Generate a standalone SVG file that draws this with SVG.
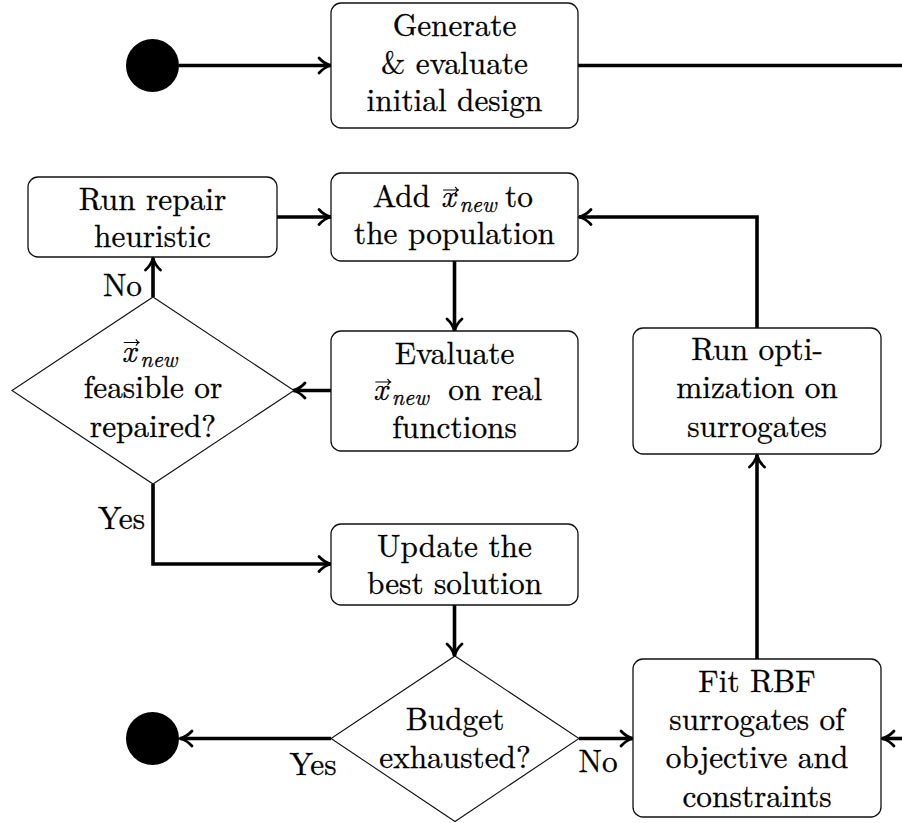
<svg xmlns="http://www.w3.org/2000/svg" width="902" height="823" viewBox="0 0 902 823">
<style>
.box{fill:#fff;stroke:#111;stroke-width:1.3}
.dia{fill:#fff;stroke:#111;stroke-width:1.1}
.dot{fill:#000}
.c{fill:none;stroke:#000;stroke-width:3.6}
.ca{fill:none;stroke:#000;stroke-width:3.6;marker-end:url(#ah)}
.vec{fill:none;stroke:#000;stroke-width:1.2;stroke-linecap:round;stroke-linejoin:round}
text{stroke:#000;stroke-width:0.3}
</style>
<defs>
<marker id="ah" markerUnits="userSpaceOnUse" viewBox="-15 -10 17 20" markerWidth="17" markerHeight="20" refX="0" refY="0" orient="auto">
<path d="M-12,-7.5 C-8,-3 -3.5,-0.9 0,0 C-3.5,0.9 -8,3 -12,7.5" fill="none" stroke="#000" stroke-width="2.8" stroke-linecap="round" stroke-linejoin="round"/>
</marker>
</defs>

<g id="connectors">
<path class="ca" d="M179,65.5 H331"/>
<path class="c" d="M578,65.5 H905"/>
<path class="ca" d="M905,738.5 H882"/>
<path class="ca" d="M757,659 V455"/>
<path class="ca" d="M757,328 V217 H579"/>
<path class="ca" d="M454.5,261 V331"/>
<path class="ca" d="M331,390.5 H293"/>
<path class="ca" d="M153,297 V258"/>
<path class="ca" d="M277,217 H331"/>
<path class="ca" d="M153,484 V564 H331"/>
<path class="ca" d="M454.5,605 V656"/>
<path class="ca" d="M331,738.5 H180"/>
<path class="ca" d="M579,738.5 H633"/>
<text x="142" y="296" text-anchor="end" font-family="'Latin Modern Roman','Liberation Serif',serif" font-size="31.3">No</text>
<text x="145" y="529" text-anchor="end" font-family="'Latin Modern Roman','Liberation Serif',serif" font-size="31.3">Yes</text>
<text x="313" y="775" text-anchor="middle" font-family="'Latin Modern Roman','Liberation Serif',serif" font-size="31.3">Yes</text>
<text x="598" y="772" text-anchor="middle" font-family="'Latin Modern Roman','Liberation Serif',serif" font-size="31.3">No</text>
</g>

<g id="start">
<circle class="dot" cx="152.5" cy="65.5" r="26.5"/>
</g>

<g id="generate" font-family="'Latin Modern Roman','Liberation Serif',serif" font-size="31.3" text-anchor="middle">
<rect class="box" x="331" y="3" width="247" height="125" rx="10"/>
<text x="454.5" y="36" font-family="'Latin Modern Roman','Liberation Serif',serif">Generate</text>
<text x="454.5" y="74" font-family="'Latin Modern Roman','Liberation Serif',serif">&amp; evaluate</text>
<text x="454.5" y="111" font-family="'Latin Modern Roman','Liberation Serif',serif">initial design</text>
</g>

<g id="repair" font-family="'Latin Modern Roman','Liberation Serif',serif" font-size="31.3" text-anchor="middle">
<rect class="box" x="28" y="177" width="249" height="80" rx="10"/>
<text x="152.5" y="210" font-family="'Latin Modern Roman','Liberation Serif',serif">Run repair</text>
<text x="152.5" y="246.5" font-family="'Latin Modern Roman','Liberation Serif',serif">heuristic</text>
</g>

<g id="add" font-family="'Latin Modern Roman','Liberation Serif',serif" font-size="31.3">
<rect class="box" x="331" y="173" width="247" height="88" rx="10"/>
<text x="372.7" y="206.5" font-family="'Latin Modern Roman','Liberation Serif',serif">Add <tspan x="441" font-style="italic">x</tspan><tspan x="459.5" dy="5" font-style="italic" font-size="22">new</tspan><tspan x="505" dy="-5">to</tspan></text>
<path class="vec" d="M443.5,190 H458.5 M455.5,187.3 Q456.5,189.3 458.5,190 Q456.5,190.7 455.5,192.7"/>
<text x="454.5" y="243.5" text-anchor="middle" font-family="'Latin Modern Roman','Liberation Serif',serif">the population</text>
</g>

<g id="evaluate" font-family="'Latin Modern Roman','Liberation Serif',serif" font-size="31.3">
<rect class="box" x="331" y="331" width="247" height="120" rx="10"/>
<text x="454.5" y="363.5" text-anchor="middle" font-family="'Latin Modern Roman','Liberation Serif',serif">Evaluate</text>
<text x="373.3" y="400" font-family="'Latin Modern Roman','Liberation Serif',serif"><tspan font-style="italic">x</tspan><tspan x="391.7" dy="5" font-style="italic" font-size="22">new</tspan><tspan x="448.3" dy="-5">on real</tspan></text>
<path class="vec" d="M375.8,382 H390.8 M387.8,379.3 Q388.8,381.3 390.8,382 Q388.8,382.7 387.8,384.7"/>
<text x="454.5" y="438" text-anchor="middle" font-family="'Latin Modern Roman','Liberation Serif',serif">functions</text>
</g>

<g id="feasible" font-family="'Latin Modern Roman','Liberation Serif',serif" font-size="31.3">
<polygon class="dia" points="153,297 294,390.5 153,484 12,390.5"/>
<text x="121.7" y="361.5" font-family="'Latin Modern Roman','Liberation Serif',serif"><tspan font-style="italic">x</tspan><tspan x="140.3" dy="5" font-style="italic" font-size="22">new</tspan></text>
<path class="vec" d="M124.2,342.5 H139.2 M136.2,339.8 Q137.2,341.8 139.2,342.5 Q137.2,343.2 136.2,345.2"/>
<text x="153" y="398" text-anchor="middle" font-family="'Latin Modern Roman','Liberation Serif',serif">feasible or</text>
<text x="153" y="436.5" text-anchor="middle" font-family="'Latin Modern Roman','Liberation Serif',serif">repaired?</text>
</g>

<g id="update" font-family="'Latin Modern Roman','Liberation Serif',serif" font-size="31.3" text-anchor="middle">
<rect class="box" x="331" y="524" width="247" height="81" rx="10"/>
<text x="454.5" y="556.5" font-family="'Latin Modern Roman','Liberation Serif',serif">Update the</text>
<text x="454.5" y="594" font-family="'Latin Modern Roman','Liberation Serif',serif">best solution</text>
</g>

<g id="budget" font-family="'Latin Modern Roman','Liberation Serif',serif" font-size="31.3" text-anchor="middle">
<polygon class="dia" points="455,656 579,738.5 455,821.5 331,738.5"/>
<text x="455" y="730" font-family="'Latin Modern Roman','Liberation Serif',serif">Budget</text>
<text x="455" y="768" font-family="'Latin Modern Roman','Liberation Serif',serif">exhausted?</text>
</g>

<g id="end">
<circle class="dot" cx="152.5" cy="738.5" r="26.5"/>
</g>

<g id="runopt" font-family="'Latin Modern Roman','Liberation Serif',serif" font-size="31.3" text-anchor="middle">
<rect class="box" x="633" y="328" width="248" height="126" rx="10"/>
<text x="757" y="360" font-family="'Latin Modern Roman','Liberation Serif',serif">Run opti-</text>
<text x="757" y="398" font-family="'Latin Modern Roman','Liberation Serif',serif">mization on</text>
<text x="757" y="436.5" font-family="'Latin Modern Roman','Liberation Serif',serif">surrogates</text>
</g>

<g id="fit" font-family="'Latin Modern Roman','Liberation Serif',serif" font-size="31.3" text-anchor="middle">
<rect class="box" x="633" y="659" width="248" height="158" rx="10"/>
<text x="757" y="691.5" font-family="'Latin Modern Roman','Liberation Serif',serif">Fit RBF</text>
<text x="757" y="730" font-family="'Latin Modern Roman','Liberation Serif',serif">surrogates of</text>
<text x="757" y="768" font-family="'Latin Modern Roman','Liberation Serif',serif">objective and</text>
<text x="757" y="806.5" font-family="'Latin Modern Roman','Liberation Serif',serif">constraints</text>
</g>
</svg>
